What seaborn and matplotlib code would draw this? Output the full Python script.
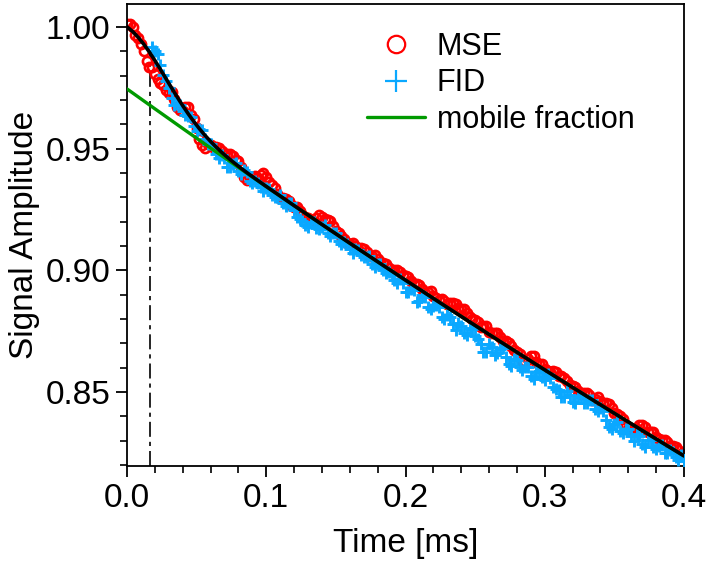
import numpy as np
import matplotlib
matplotlib.use("Agg")
import matplotlib.pyplot as plt
from matplotlib.ticker import MultipleLocator, FixedLocator, FixedFormatter
import seaborn as sns

# ---------------- data ----------------
T_STEP = 0.002
MSE_T0 = 0.000
FID_T0 = 0.018

# MSE samples on the 0.004 ms grid and on the in-between 0.002 ms offsets
mse_on_grid = [
    1.0012, 0.99981, 0.99523, 0.98990, 0.98370, 0.98071, 0.97701, 0.97422, 0.97344, 0.96721,
    0.96564, 0.96725, 0.96208, 0.95414, 0.95043, 0.95143, 0.95062, 0.94897, 0.94797, 0.94707,
    0.94476, 0.93852, 0.93733, 0.93869, 0.93907, 0.93845, 0.93484, 0.93127, 0.92971, 0.92865,
    0.92608, 0.92453, 0.92198, 0.92043, 0.92138, 0.92183, 0.92079, 0.91825, 0.91522, 0.91268,
    0.91064, 0.91012, 0.90909, 0.90757, 0.90604, 0.90452, 0.90301, 0.90100, 0.89998, 0.89947,
    0.89746, 0.89546, 0.89446, 0.89246, 0.89096, 0.88946, 0.88797, 0.88749, 0.88650, 0.88602,
    0.88403, 0.88255, 0.88008, 0.87860, 0.87713, 0.87465, 0.87419, 0.87273, 0.87076, 0.86880,
    0.86634, 0.86289, 0.86344, 0.86499, 0.86154, 0.85959, 0.85815, 0.85822, 0.85678, 0.85434,
    0.85240, 0.85048, 0.84955, 0.84863, 0.84720, 0.84628, 0.84537, 0.84345, 0.84104, 0.83912,
    0.83471, 0.83431, 0.83641, 0.83550, 0.83360, 0.83170, 0.83031, 0.82942, 0.82803, 0.82614,
    0.82425,
]
mse_between = [
    1.00131, 0.99682, 0.99297, 0.98580, 0.98331, 0.97856, 0.97622, 0.97303, 0.97053, 0.96593,
    0.96725, 0.96397, 0.95851, 0.95129, 0.95203, 0.95073, 0.95040, 0.94767, 0.94772, 0.94542,
    0.94244, 0.93723, 0.93841, 0.93788, 0.93986, 0.93635, 0.93366, 0.92969, 0.92938, 0.92687,
    0.92611, 0.92256, 0.92161, 0.91991, 0.92271, 0.92101, 0.92012, 0.91594, 0.91415, 0.91116,
    0.91118, 0.90891, 0.90873, 0.90581, 0.90638, 0.90347, 0.90261, 0.89969, 0.89993, 0.89797,
    0.89726, 0.89426, 0.89386, 0.89071, 0.89131, 0.88842, 0.88833, 0.88620, 0.88646, 0.88453,
    0.88409, 0.88062, 0.87974, 0.87687, 0.87699, 0.87412, 0.87406, 0.87095, 0.86998, 0.86707,
    0.86542, 0.86247, 0.86462, 0.86227, 0.86167, 0.85857, 0.85879, 0.85670, 0.85576, 0.85287,
    0.85224, 0.84932, 0.84949, 0.84692, 0.84784, 0.84553, 0.84501, 0.84145, 0.84028, 0.83642,
    0.83531, 0.83466, 0.83636, 0.83355, 0.83375, 0.83071, 0.83047, 0.82793, 0.82729, 0.82470,
]

# FID: first sample (0.018 ms), then 0.020 + 0.004 k grid, and in-between samples
fid_first = 0.99180
fid_on_grid = [
    0.99021, 0.98451, 0.97772, 0.97094, 0.96821, 0.96564, 0.96325, 0.95908, 0.95814, 0.95393,
    0.95193, 0.94762, 0.94747, 0.94247, 0.94357, 0.94076, 0.94102, 0.93683, 0.93669, 0.93407,
    0.93395, 0.93084, 0.93027, 0.92771, 0.92765, 0.92458, 0.92103, 0.91848, 0.91993, 0.91738,
    0.91783, 0.91529, 0.91525, 0.91222, 0.91168, 0.90864, 0.90862, 0.90609, 0.90557, 0.90254,
    0.90252, 0.90001, 0.89950, 0.89598, 0.89647, 0.89096, 0.89246, 0.88696, 0.88996, 0.88496,
    0.88546, 0.88497, 0.87999, 0.88100, 0.87552, 0.87703, 0.87355, 0.87608, 0.87160, 0.86663,
    0.86965, 0.86519, 0.86773, 0.86426, 0.86080, 0.86334, 0.85889, 0.86044, 0.85549, 0.85854,
    0.85509, 0.85565, 0.85122, 0.84778, 0.85034, 0.84590, 0.84848, 0.84555, 0.84663, 0.84320,
    0.84328, 0.83837, 0.83495, 0.83754, 0.83312, 0.83471, 0.82981, 0.83191, 0.82750, 0.83010,
    0.82670, 0.82831, 0.82492, 0.82553, 0.82214, 0.82175,
]
fid_between = [
    0.98886, 0.98012, 0.97483, 0.96808, 0.96793, 0.96395, 0.96317, 0.95741, 0.95754, 0.95193,
    0.95028, 0.94605, 0.94597, 0.94252, 0.94417, 0.93969, 0.94043, 0.93576, 0.93588, 0.93251,
    0.93340, 0.93006, 0.93099, 0.92648, 0.92762, 0.92181, 0.92026, 0.91771, 0.91966, 0.91711,
    0.91856, 0.91407, 0.91524, 0.91095, 0.91066, 0.90713, 0.90836, 0.90533, 0.90606, 0.90133,
    0.90277, 0.89876, 0.89824, 0.89473, 0.89472, 0.89121, 0.89171, 0.88726, 0.88896, 0.88421,
    0.88572, 0.88098, 0.88150, 0.87776, 0.87828, 0.87409, 0.87632, 0.87284, 0.86962, 0.86664,
    0.86842, 0.86596, 0.86800, 0.86133, 0.86357, 0.86012, 0.86017, 0.85647, 0.85802, 0.85632,
    0.85737, 0.85224, 0.85100, 0.84806, 0.84862, 0.84569, 0.84802, 0.84559, 0.84692, 0.84204,
    0.84233, 0.83566, 0.83675, 0.83383, 0.83492, 0.83176, 0.83286, 0.82851, 0.83030, 0.82740,
    0.82801, 0.82512, 0.82623, 0.82334, 0.82395,
]

fit_time = [0.000, 0.004, 0.008, 0.012, 0.016, 0.020, 0.024, 0.028, 0.032, 0.036,
            0.040, 0.044, 0.048, 0.052, 0.056, 0.060, 0.064, 0.068, 0.072, 0.076,
            0.080, 0.084, 0.088, 0.092, 0.096, 0.100, 0.120, 0.140, 0.160, 0.180,
            0.200, 0.220, 0.240, 0.260, 0.280, 0.300, 0.320, 0.340, 0.360, 0.380, 0.400]
fit_signal = [1.00000, 0.99811, 0.99573, 0.99290, 0.98970, 0.98621, 0.98251, 0.97872, 0.97494, 0.97121,
              0.96764, 0.96425, 0.96108, 0.95814, 0.95543, 0.95293, 0.95062, 0.94847, 0.94647, 0.94457,
              0.94276, 0.94102, 0.93933, 0.93769, 0.93607, 0.93445, 0.92658, 0.91883, 0.91114, 0.90352,
              0.89596, 0.88846, 0.88103, 0.87365, 0.86634, 0.85909, 0.85190, 0.84478, 0.83771, 0.83070, 0.82375]

mobile_time = [0.00, 0.02, 0.04, 0.06, 0.08, 0.10, 0.12, 0.14, 0.16, 0.18, 0.20,
               0.22, 0.24, 0.26, 0.28, 0.30, 0.32, 0.34, 0.36, 0.38, 0.40]
mobile_signal = [0.97450, 0.96635, 0.95826, 0.95024, 0.94229, 0.93440, 0.92658, 0.91883, 0.91114, 0.90352,
                 0.89596, 0.88846, 0.88103, 0.87365, 0.86634, 0.85909, 0.85190, 0.84478, 0.83771, 0.83070, 0.82375]

dead_time = 0.0165
dead_time_top = 0.9885

x_ticks = [0.0, 0.1, 0.2, 0.3, 0.4]
x_tick_labels = ["0.0", "0.1", "0.2", "0.3", "0.4"]
y_ticks = [0.85, 0.90, 0.95, 1.00]
y_tick_labels = ["0.85", "0.90", "0.95", "1.00"]
x_lim = (0.0, 0.4)
y_lim = (0.8196, 1.0094)

# interleave the sample lists in time order
mse_signal = np.empty(len(mse_on_grid) + len(mse_between))
mse_signal[0::2] = mse_on_grid
mse_signal[1::2] = mse_between
fid_rest = np.empty(len(fid_on_grid) + len(fid_between))
fid_rest[0::2] = fid_on_grid
fid_rest[1::2] = fid_between
fid_signal = np.concatenate([[fid_first], fid_rest])

mse_time = np.round(MSE_T0 + T_STEP * np.arange(len(mse_signal)), 4)
fid_time = np.round(FID_T0 + T_STEP * np.arange(len(fid_signal)), 4)

# ---------------- style ----------------
sns.set_theme(style="ticks")
plt.rcParams["font.family"] = ["Liberation Sans", "DejaVu Sans"]
plt.rcParams["text.color"] = "black"
plt.rcParams["axes.labelcolor"] = "black"
plt.rcParams["axes.linewidth"] = 1.3

fig = plt.figure(figsize=(7.08, 5.61), dpi=100)
ax = fig.add_axes([0.1794, 0.1693, 0.7867, 0.8236])

ax.plot([dead_time, dead_time], [y_lim[0], dead_time_top], color="black", lw=1.2,
        ls=(0, (9, 3, 2.5, 3)), zorder=1)

sns.lineplot(x=mse_time, y=mse_signal, ax=ax, estimator=None, sort=False,
             linestyle="none", marker="o", markersize=6.6, markerfacecolor="none",
             markeredgecolor="#FF0000", markeredgewidth=1.9, color="#FF0000",
             label="MSE", zorder=2)
sns.lineplot(x=fid_time, y=fid_signal, ax=ax, estimator=None, sort=False,
             linestyle="none", marker="+", markersize=8.6, markeredgewidth=2.1,
             color="#0AA8FF", markeredgecolor="#0AA8FF",
             label="FID", zorder=3)
sns.lineplot(x=mobile_time, y=mobile_signal, ax=ax, estimator=None, sort=False,
             color="#009A00", lw=2.4, label="mobile fraction", zorder=4)
sns.lineplot(x=fit_time, y=fit_signal, ax=ax, estimator=None, sort=False,
             color="black", lw=2.6, label="_nolegend_", zorder=5)

ax.set_xlim(*x_lim)
ax.set_ylim(*y_lim)
ax.xaxis.set_major_locator(FixedLocator(x_ticks))
ax.xaxis.set_major_formatter(FixedFormatter(x_tick_labels))
ax.yaxis.set_major_locator(FixedLocator(y_ticks))
ax.yaxis.set_major_formatter(FixedFormatter(y_tick_labels))
ax.xaxis.set_minor_locator(MultipleLocator(0.02))
ax.yaxis.set_minor_locator(MultipleLocator(0.01))
ax.tick_params(which="major", direction="out", length=8, width=1.3, labelsize=24,
               pad=4, color="black", labelcolor="black", top=False, right=False)
ax.tick_params(which="minor", direction="out", length=5, width=1.2,
               color="black", top=False, right=False)
for s in ax.spines.values():
    s.set_color("black")
    s.set_linewidth(1.3)

ax.set_xlabel("Time [ms]", fontsize=24, labelpad=10, color="black")
ax.set_ylabel("Signal Amplitude", fontsize=24, labelpad=4, color="black")

leg = ax.legend(loc="upper left", bbox_to_anchor=(0.43, 0.94), frameon=False,
                fontsize=22, markerscale=1.9, handlelength=1.9, handletextpad=0.4,
                labelspacing=0.22, borderpad=0, borderaxespad=0)
for h in leg.legend_handles:
    if h.get_marker() == "o":
        h.set_markeredgewidth(1.6)
    elif h.get_marker() == "+":
        h.set_markeredgewidth(1.6)

fig.savefig("out.png", dpi=100)
